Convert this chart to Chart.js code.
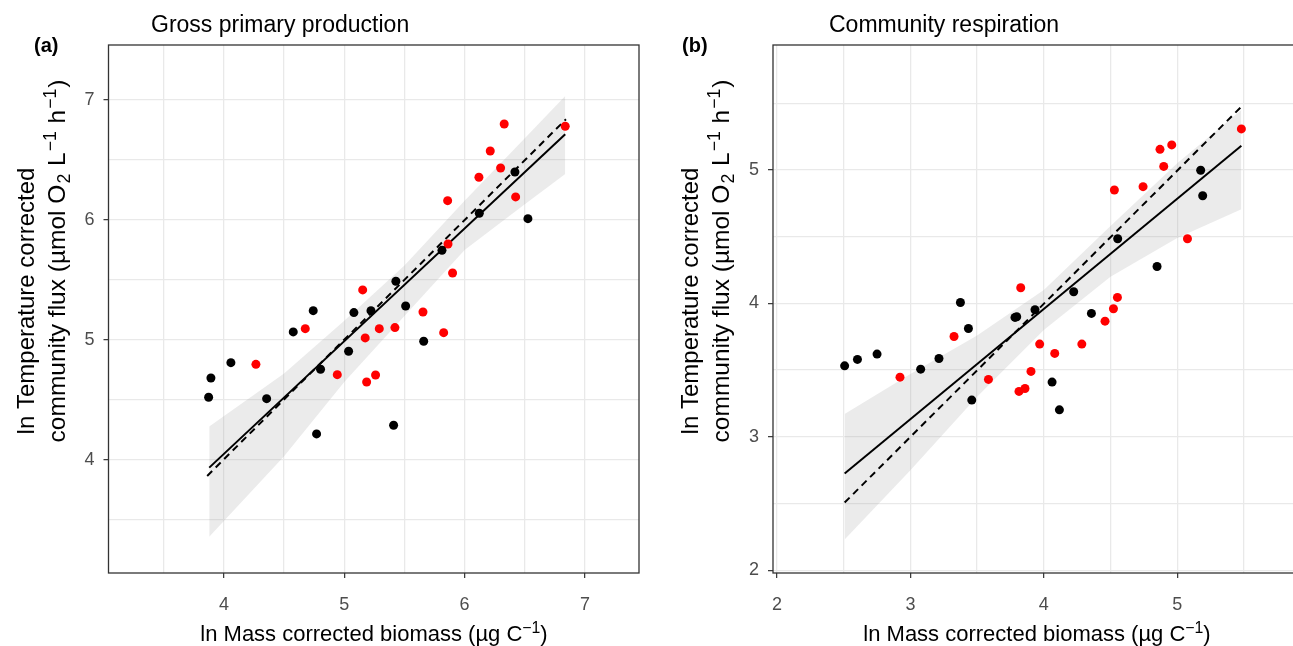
<!DOCTYPE html>
<html>
<head>
<meta charset="utf-8">
<script src="https://cdn.jsdelivr.net/npm/chart.js@4.4.1/dist/chart.umd.min.js"></script>
<style>
    html, body { margin: 0; padding: 0; background: #fff; overflow: hidden; width: 1293px; height: 646px; }
    .panel { position: absolute; top: 0; height: 646px; }
    #wrap-gpp { left: 0; width: 660px; }
    #wrap-cr { left: 660px; width: 661px; }
</style>
</head>
<body>
<div class="panel" id="wrap-gpp"><canvas id="gpp-chart" width="660" height="646"></canvas></div>
<div class="panel" id="wrap-cr"><canvas id="cr-chart" width="661" height="646"></canvas></div>
<script>
// ---- (a) Gross primary production ----
const gppBlackX = [3.873, 3.892, 4.058, 4.355, 4.576, 4.742, 4.803, 4.770, 5.036, 5.080, 5.222, 5.429, 5.410, 5.510, 5.660, 5.812, 6.122, 6.418, 6.526];
const gppBlackY = [4.523, 4.683, 4.811, 4.511, 5.067, 5.244, 4.756, 4.217, 4.906, 5.228, 5.244, 5.489, 4.289, 5.283, 4.989, 5.747, 6.056, 6.400, 6.011];
const gppRedX = [4.266, 4.676, 5.153, 4.942, 5.174, 5.186, 5.260, 5.291, 5.421, 5.654, 5.826, 5.900, 5.862, 5.859, 6.119, 6.213, 6.299, 6.329, 6.424, 6.836];
const gppRedY = [4.797, 5.094, 5.417, 4.711, 5.017, 4.650, 4.708, 5.094, 5.103, 5.233, 5.061, 5.558, 5.800, 6.161, 6.356, 6.575, 6.433, 6.800, 6.192, 6.781];
const gppFitX = [3.878, 6.836];
const gppFitY = [3.936, 6.714];
const gppDashX = [3.861, 6.842];
const gppDashY = [3.867, 6.839];
const gppBandX = [3.878, 4.5, 5.0, 5.5, 6.0, 6.5, 6.836];
const gppBandHi = [4.278, 4.72, 5.16, 5.62, 6.16, 6.68, 7.033];
const gppBandLo = [3.361, 4.03, 4.65, 5.20, 5.75, 6.13, 6.383];
const gppTicks = [3.5, 4, 4.5, 5, 5.5, 6, 6.5, 7];

// ---- (b) Community respiration ----
const crBlackX = [2.507, 2.603, 2.750, 3.077, 3.214, 3.375, 3.435, 3.460, 3.784, 3.797, 3.934, 4.062, 4.117, 4.224, 4.357, 4.554, 4.849, 5.176, 5.191];
const crBlackY = [3.532, 3.580, 3.620, 3.507, 3.587, 4.007, 3.812, 3.275, 3.895, 3.900, 3.952, 3.410, 3.202, 4.087, 3.925, 4.485, 4.277, 4.998, 4.807];
const crRedX = [2.922, 3.327, 3.585, 3.827, 3.814, 3.859, 3.904, 3.969, 4.082, 4.285, 4.459, 4.522, 4.552, 4.529, 4.744, 4.871, 4.959, 4.899, 5.077, 5.481];
const crRedY = [3.447, 3.752, 3.430, 4.117, 3.340, 3.362, 3.490, 3.695, 3.625, 3.695, 3.867, 3.960, 4.045, 4.850, 4.875, 5.155, 5.188, 5.027, 4.485, 5.308];
const crFitX = [2.507, 5.481];
const crFitY = [2.725, 5.182];
const crDashX = [2.507, 5.481];
const crDashY = [2.507, 5.475];
const crBandX = [2.507, 3.0, 3.5, 4.0, 4.5, 5.0, 5.481];
const crBandHi = [3.17, 3.47, 3.76, 4.10, 4.58, 5.05, 5.45];
const crBandLo = [2.23, 2.75, 3.30, 3.80, 4.20, 4.49, 4.705];
const crTicks = [2, 2.5, 3, 3.5, 4, 4.5, 5, 5.5];

const FONT = "'Liberation Sans', Arial, Helvetica, sans-serif";
const xyPairs = (xs, ys) => xs.map((x, i) => ({ x: x, y: ys[i] }));

// draws a run of text pieces (plain / sup / sub), centred or left aligned, optionally rotated
function drawRich(ctx, t) {
    ctx.save();
    ctx.translate(t.x, t.y);
    if (t.rotate) ctx.rotate(-Math.PI / 2);
    ctx.fillStyle = '#000';
    ctx.textBaseline = 'alphabetic';
    ctx.textAlign = 'left';
    const fontOf = p => (t.bold ? 'bold ' : '') + ((p.sup || p.sub) ? t.size * 0.72 : t.size) + 'px ' + FONT;
    const gap = t.gap || 0;
    let total = 0;
    const widths = t.parts.map(p => {
        ctx.font = fontOf(p);
        const w = ctx.measureText(p.t).width + ((p.sup || p.sub) ? 2 * gap : 0);
        total += w;
        return w;
    });
    let x = t.align === 'left' ? 0 : -total / 2;
    const base = t.baseline ? 0 : t.size * 0.36;
    t.parts.forEach((p, i) => {
        ctx.font = fontOf(p);
        let dy = 0, dx = 0;
        if (p.sup) { dy = -t.size * 0.38; dx = gap; }
        if (p.sub) { dy = t.size * 0.2; dx = gap; }
        ctx.fillText(p.t, x + dx, base + dy);
        x += widths[i];
    });
    ctx.restore();
}

function decorPlugin(texts) {
    return {
        id: 'decor',
        afterDraw(chart) {
            const { ctx, chartArea: a } = chart;
            ctx.save();
            ctx.strokeStyle = '#333333';
            ctx.lineWidth = 1.3;
            ctx.strokeRect(a.left, a.top, a.right - a.left, a.bottom - a.top);
            ctx.restore();
            texts.forEach(t => drawRich(ctx, t));
        }
    };
}

function axis(min, max, ticks, isX, size) {
    return {
        type: 'linear',
        min: min,
        max: max,
        afterBuildTicks: s => { s.ticks = ticks.map(v => ({ value: v })); },
        afterFit: s => { if (isX) s.height = size; else s.width = size; },
        border: { display: false },
        grid: {
            color: '#e9e9e9',
            lineWidth: 1.3,
            drawTicks: true,
            tickLength: 5,
            tickWidth: 1.2,
            tickColor: c => (c.tick && Number.isInteger(c.tick.value)) ? '#333333' : 'rgba(0,0,0,0)'
        },
        ticks: {
            autoSkip: false,
            maxRotation: 0,
            padding: isX ? 16 : 9,
            color: '#4d4d4d',
            font: { family: FONT, size: 18 },
            callback: v => Number.isInteger(v) ? String(v) : ''
        }
    };
}

function drawPanel(canvasId, d) {
    const ctx = document.getElementById(canvasId).getContext('2d');
    return new Chart(ctx, {
        type: 'scatter',
        data: {
            datasets: [
                { data: xyPairs(d.bandX, d.bandHi), showLine: true, fill: '+1', backgroundColor: 'rgba(153,153,153,0.2)', borderWidth: 0, borderColor: 'rgba(0,0,0,0)', pointRadius: 0, order: 5 },
                { data: xyPairs(d.bandX, d.bandLo), showLine: true, fill: false, borderWidth: 0, borderColor: 'rgba(0,0,0,0)', pointRadius: 0, order: 5 },
                { data: xyPairs(d.fitX, d.fitY), showLine: true, borderColor: '#000', borderWidth: 2, pointRadius: 0, order: 3 },
                { data: xyPairs(d.dashX, d.dashY), showLine: true, borderColor: '#000', borderWidth: 2, borderDash: [7, 5], pointRadius: 0, order: 3 },
                { data: xyPairs(d.blackX, d.blackY), backgroundColor: '#000000', borderWidth: 0, pointRadius: 4.5, order: 1 },
                { data: xyPairs(d.redX, d.redY), backgroundColor: '#ff0000', borderWidth: 0, pointRadius: 4.5, order: 1 }
            ]
        },
        options: {
            responsive: false,
            animation: false,
            devicePixelRatio: 1,
            layout: { padding: { left: 0, right: d.padRight, top: 45, bottom: 0 } },
            plugins: { legend: { display: false }, tooltip: { enabled: false }, title: { display: false } },
            scales: {
                x: axis(d.xMin, d.xMax, d.ticks, true, 73),
                y: axis(d.yMin, d.yMax, d.ticks, false, d.yAxisWidth)
            }
        },
        plugins: [decorPlugin(d.texts)]
    });
}

const xTitle = [{ t: 'ln Mass corrected biomass (µg C' }, { t: '−1', sup: true }, { t: ')' }];
const yTitle1 = [{ t: 'ln Temperature corrected' }];
const yTitle2 = [{ t: 'community flux (µmol O' }, { t: '2', sub: true }, { t: ' L' }, { t: '−1', sup: true }, { t: ' h' }, { t: '−1', sup: true }, { t: ')' }];

drawPanel('gpp-chart', {
    blackX: gppBlackX, blackY: gppBlackY, redX: gppRedX, redY: gppRedY,
    fitX: gppFitX, fitY: gppFitY, dashX: gppDashX, dashY: gppDashY,
    bandX: gppBandX, bandHi: gppBandHi, bandLo: gppBandLo, ticks: gppTicks,
    xMin: 3.041, xMax: 7.449, yMin: 3.058, yMax: 7.458,
    yAxisWidth: 108.5, padRight: 21,
    texts: [
        { parts: [{ t: '(a)' }], x: 34, y: 52, size: 20, bold: true, align: 'left', baseline: true },
        { parts: [{ t: 'Gross primary production' }], x: 151, y: 32, size: 23, align: 'left', baseline: true },
        { parts: xTitle, x: 374, y: 633, size: 22 },
        { parts: yTitle1, x: 25, y: 301, size: 24, rotate: true },
        { parts: yTitle2, x: 56, y: 261, size: 24.5, rotate: true, gap: 1 }
    ]
});

drawPanel('cr-chart', {
    blackX: crBlackX, blackY: crBlackY, redX: crRedX, redY: crRedY,
    fitX: crFitX, fitY: crFitY, dashX: crDashX, dashY: crDashY,
    bandX: crBandX, bandHi: crBandHi, bandLo: crBandLo, ticks: crTicks,
    xMin: 1.970, xMax: 5.928, yMin: 1.979, yMax: 5.937,
    yAxisWidth: 113, padRight: 20,
    texts: [
        { parts: [{ t: '(b)' }], x: 22, y: 52, size: 20, bold: true, align: 'left', baseline: true },
        { parts: [{ t: 'Community respiration' }], x: 169, y: 32, size: 23, align: 'left', baseline: true },
        { parts: xTitle, x: 377, y: 633, size: 22 },
        { parts: yTitle1, x: 29, y: 301, size: 24, rotate: true },
        { parts: yTitle2, x: 60, y: 261, size: 24.5, rotate: true, gap: 1 }
    ]
});
</script>
</body>
</html>
